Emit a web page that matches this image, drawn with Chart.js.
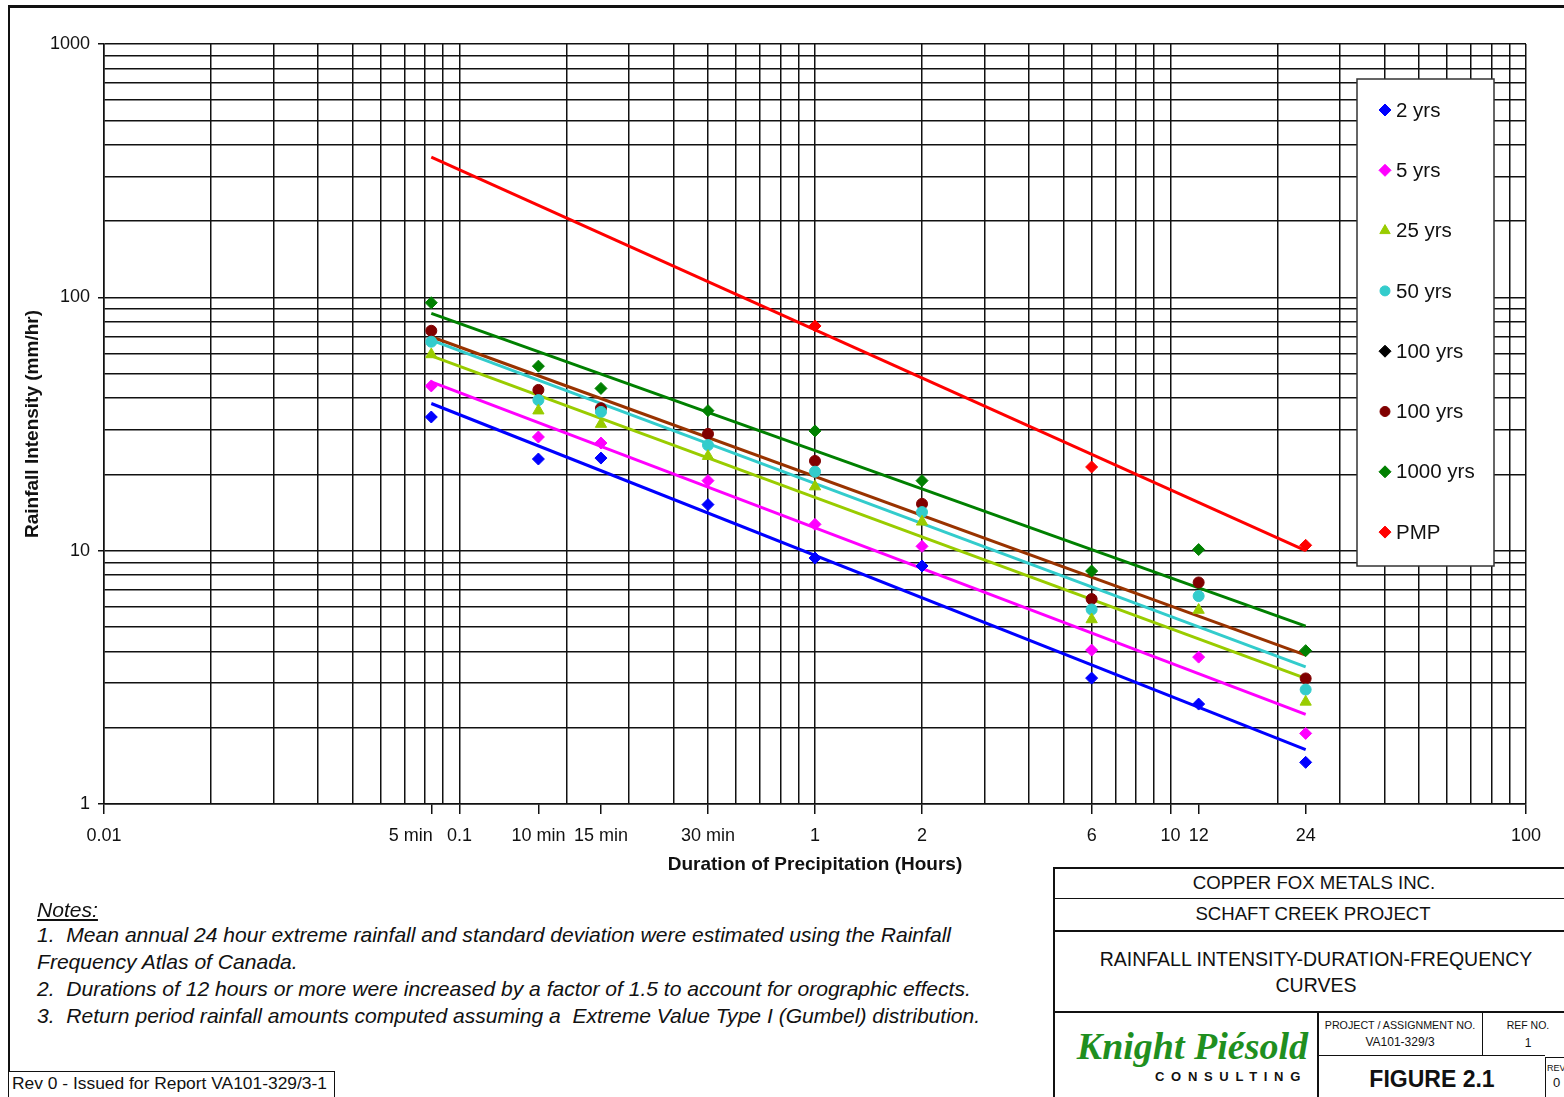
<!DOCTYPE html>
<html>
<head>
<meta charset="utf-8">
<script src="https://cdn.jsdelivr.net/npm/chart.js@4/dist/chart.umd.min.js"></script>
<style>
  html,body{margin:0;padding:0;background:#fff;}
  body{width:1564px;height:1097px;position:relative;overflow:hidden;font-family:"Liberation Sans",Arial,sans-serif;color:#111;}
  .abs{position:absolute;}
  .line{position:absolute;background:#111;}
  #chart{position:absolute;left:0;top:0;}
  .fit{white-space:nowrap;display:inline-block;transform-origin:0 50%;}
  .c{position:absolute;text-align:center;white-space:nowrap;transform:translate(-50%,-50%);}
</style>
</head>
<body>
<!-- outer frame -->
<div class="line" style="left:8px;top:5px;width:1556px;height:3px;"></div>
<div class="line" style="left:8px;top:5px;width:2px;height:1067px;"></div>

<canvas id="chart" width="1564" height="900"></canvas>

<!-- notes -->
<div class="abs" style="left:37px;top:898px;font-style:italic;font-size:21px;"><span class="fit note" style="text-decoration:underline;">Notes:</span></div>
<div class="abs" style="left:37px;top:923px;font-style:italic;font-size:21px;"><span class="fit note" id="note1">1.&nbsp; Mean annual 24 hour extreme rainfall and standard deviation were estimated using the Rainfall</span></div>
<div class="abs" style="left:37px;top:950px;font-style:italic;font-size:21px;"><span class="fit note">Frequency Atlas of Canada.</span></div>
<div class="abs" style="left:37px;top:977px;font-style:italic;font-size:21px;"><span class="fit note">2.&nbsp; Durations of 12 hours or more were increased by a factor of 1.5 to account for orographic effects.</span></div>
<div class="abs" style="left:37px;top:1004px;font-style:italic;font-size:21px;"><span class="fit note">3.&nbsp; Return period rainfall amounts computed assuming a&nbsp; Extreme Value Type I (Gumbel) distribution.</span></div>

<!-- rev box -->
<div class="abs" style="left:8px;top:1071px;width:325px;height:40px;border:1px solid #111;background:#fff;"></div>
<div class="abs" style="left:12px;top:1075px;font-size:16px;"><span class="fit" id="revtxt">Rev 0 - Issued for Report VA101-329/3-1</span></div>

<!-- title block -->
<div class="abs" style="left:1053px;top:868px;width:520px;height:240px;background:#fff;"></div>
<div class="line" style="left:1053px;top:867px;width:511px;height:2px;"></div>
<div class="line" style="left:1053px;top:867px;width:2px;height:230px;"></div>
<div class="line" style="left:1053px;top:898px;width:511px;height:1px;"></div>
<div class="line" style="left:1053px;top:930px;width:511px;height:2px;"></div>
<div class="line" style="left:1053px;top:1011px;width:511px;height:2px;"></div>
<div class="line" style="left:1317px;top:1011px;width:2px;height:86px;"></div>
<div class="line" style="left:1482px;top:1011px;width:1px;height:45px;"></div>
<div class="line" style="left:1317px;top:1055px;width:228px;height:1px;"></div>
<div class="line" style="left:1545px;top:1057px;width:1px;height:40px;"></div>
<div class="line" style="left:1545px;top:1057px;width:19px;height:1px;"></div>

<div class="c" style="left:1314px;top:883px;font-size:18.6px;">COPPER FOX METALS INC.</div>
<div class="c" style="left:1313px;top:914px;font-size:18.6px;">SCHAFT CREEK PROJECT</div>
<div class="c" style="left:1316px;top:959px;font-size:19.5px;">RAINFALL INTENSITY-DURATION-FREQUENCY</div>
<div class="c" style="left:1316px;top:985px;font-size:19.5px;">CURVES</div>
<div class="abs" style="right:256px;top:1024px;font-family:'Liberation Serif','Times New Roman',serif;font-style:italic;font-weight:bold;font-size:38px;color:#1f8f1f;white-space:nowrap;">Knight Piésold</div>
<div class="abs" style="right:257px;top:1069px;font-weight:bold;font-size:13px;letter-spacing:6.7px;white-space:nowrap;">CONSULTING</div>
<div class="c" style="left:1400px;top:1025px;font-size:10.7px;">PROJECT / ASSIGNMENT NO.</div>
<div class="c" style="left:1400px;top:1042px;font-size:12px;">VA101-329/3</div>
<div class="c" style="left:1528px;top:1025px;font-size:10.5px;">REF NO.</div>
<div class="c" style="left:1528px;top:1043px;font-size:12px;">1</div>
<div class="c" style="left:1432px;top:1079px;font-size:23px;font-weight:bold;">FIGURE 2.1</div>
<div class="abs" style="left:1547px;top:1063px;font-size:9px;">REV</div>
<div class="abs" style="left:1553px;top:1075px;font-size:13px;">0</div>

<script>
// ---------------- data ----------------
const durations = [0.0833, 0.1667, 0.25, 0.5, 1, 2, 6, 12, 24]; // hours (5, 10, 15, 30 min, 1..24 h)
const yrs2    = [33.7, 23.0, 23.2, 15.2, 9.35, 8.7, 3.14, 2.48, 1.46];
const yrs5    = [44.7, 28.1, 26.6, 18.9, 12.7, 10.4, 4.05, 3.80, 1.90];
const yrs25   = [59.5, 35.7, 31.6, 23.6, 17.9, 13.0, 5.35, 5.83, 2.53];
const yrs50   = [66.8, 39.3, 35.3, 26.1, 20.5, 14.2, 5.86, 6.62, 2.83];
const yrs100a = [null, null, null, null, null, null, null, null, null];
const yrs100b = [73.8, 43.1, 36.5, 28.9, 22.6, 15.3, 6.44, 7.49, 3.13];
const yrs1000 = [95.2, 53.5, 43.7, 35.7, 29.7, 18.9, 8.31, 10.1, 4.03];
const pmp     = [null, null, null, null, 77.1, null, 21.4, null, 10.5];

// fitted trend lines: value at 5 min and at 24 h
const fitDurations = [0.0833, 24];
const fit2    = [38.1, 1.64];
const fit5    = [46.4, 2.26];
const fit25   = [58.7, 3.13];
const fit50   = [67.8, 3.48];
const fit100  = [69.9, 3.87];
const fit1000 = [86.5, 5.04];
const fitPMP  = [358, 10.0];

// axis tick labels
const xLabelValues = [0.01, 0.0833, 0.1, 0.1667, 0.25, 0.5, 1, 2, 6, 10, 12, 24, 100];
const xLabelTexts  = ['0.01', '5 min\u2003\u2003 ', '0.1', '10 min', '15 min', '30 min', '1', '2', '6', '10', '12', '24', '100'];
const yLabelValues = [1, 10, 100, 1000];
const yLabelTexts  = ['1', '10', '100', '1000'];

const seriesNames = ['2 yrs', '5 yrs', '25 yrs', '50 yrs', '100 yrs', '100 yrs', '1000 yrs', 'PMP'];

// ---------------- helpers ----------------
function logGrid(minExp, maxExp) {
  const out = [];
  for (let e = minExp; e < maxExp; e++) {
    for (let k = 1; k <= 9; k++) out.push(Number((k * Math.pow(10, e)).toPrecision(6)));
  }
  out.push(Math.pow(10, maxExp));
  return out;
}
const xGrid = logGrid(-2, 2);
const yGrid = logGrid(0, 3);
const near = (a, b) => Math.abs(Math.log10(a) - Math.log10(b)) < 1e-4;
const xAll = [...new Set([...xGrid, ...xLabelValues])].sort((a, b) => a - b);
const xLabel = v => { const i = xLabelValues.findIndex(t => near(t, v)); return i < 0 ? null : xLabelTexts[i]; };
const yLabel = v => { const i = yLabelValues.findIndex(t => near(t, v)); return i < 0 ? null : yLabelTexts[i]; };
const isXGrid = v => xGrid.some(t => near(t, v));

const pts = arr => durations.map((d, i) => ({x: d, y: arr[i]})).filter(p => p.y !== null);
const fitPts = arr => fitDurations.map((d, i) => ({x: d, y: arr[i]}));

const GRID = '#111';
const FONT = '"Liberation Sans", Arial, sans-serif';

function pointDs(label, data, color, style, r) {
  return {type: 'scatter', label, data: pts(data), showLine: false, pointStyle: style,
    pointRadius: r, pointHoverRadius: r, backgroundColor: color, borderColor: color, borderWidth: 1,
    order: 0, inLegend: true};
}
function lineDs(data, color) {
  return {type: 'line', label: '', data: fitPts(data), borderColor: color, borderWidth: 3,
    pointRadius: 0, fill: false, tension: 0, order: 1, inLegend: false};
}

const datasets = [
  pointDs(seriesNames[0], yrs2, '#0000ff', 'rectRot', 6),
  pointDs(seriesNames[1], yrs5, '#ff00ff', 'rectRot', 6),
  pointDs(seriesNames[2], yrs25, '#99cc00', 'triangle', 6.5),
  pointDs(seriesNames[3], yrs50, '#33cccc', 'circle', 5.5),
  pointDs(seriesNames[4], yrs100a, '#000000', 'rectRot', 6),
  pointDs(seriesNames[5], yrs100b, '#800000', 'circle', 5.5),
  pointDs(seriesNames[6], yrs1000, '#008000', 'rectRot', 6),
  pointDs(seriesNames[7], pmp, '#ff0000', 'rectRot', 6),
  lineDs(fit2, '#0000ff'),
  lineDs(fit5, '#ff00ff'),
  lineDs(fit25, '#99cc00'),
  lineDs(fit50, '#33cccc'),
  lineDs(fit100, '#993300'),
  lineDs(fit1000, '#008000'),
  lineDs(fitPMP, '#ff0000'),
];

const boxLegend = {
  id: 'boxLegend',
  afterDraw(chart) {
    const ctx = chart.ctx;
    const x0 = 1357, y0 = 79, w = 137, h = 487;
    ctx.save();
    ctx.fillStyle = '#fff';
    ctx.fillRect(x0, y0, w, h);
    ctx.strokeStyle = '#333';
    ctx.lineWidth = 1.5;
    ctx.strokeRect(x0, y0, w, h);
    const items = chart.data.datasets.filter(d => d.inLegend);
    items.forEach((d, i) => {
      const cy = 110 + i * 60.3;
      ctx.fillStyle = d.backgroundColor;
      ctx.strokeStyle = d.borderColor;
      ctx.lineWidth = 1;
      Chart.helpers.drawPoint(ctx, {pointStyle: d.pointStyle, radius: d.pointStyle === 'circle' ? 5 : 6, borderWidth: 1, rotation: 0}, 1385, cy);
      ctx.fillStyle = '#111';
      ctx.font = '20.5px ' + FONT;
      ctx.textBaseline = 'middle';
      ctx.textAlign = 'left';
      ctx.fillText(d.label, 1396, cy + 1);
    });
    ctx.restore();
  }
};

new Chart(document.getElementById('chart'), {
  data: {datasets},
  options: {
    responsive: false,
    animation: false,
    layout: {padding: {left: 0, top: 44, right: 38, bottom: 0}},
    plugins: {legend: {display: false}, tooltip: {enabled: false}, title: {display: false}},
    scales: {
      x: {
        type: 'logarithmic', position: 'bottom', min: 0.01, max: 100,
        afterBuildTicks(scale) { scale.ticks = xAll.map(v => ({value: v})); },
        afterFit(scale) { scale.height = 96; },
        grid: {
          color: c => (c.tick && isXGrid(c.tick.value)) ? GRID : 'rgba(0,0,0,0)',
          tickColor: c => (c.tick && xLabel(c.tick.value) !== null) ? GRID : 'rgba(0,0,0,0)',
          lineWidth: 1.5, tickLength: 10, drawTicks: true
        },
        border: {color: GRID, width: 1.5},
        ticks: {
          autoSkip: false, maxRotation: 0, minRotation: 0, padding: 11, color: '#111',
          font: {size: 18, family: FONT},
          callback: v => xLabel(v) ?? ''
        },
        title: {display: true, text: 'Duration of Precipitation (Hours)', color: '#111',
          font: {size: 19, weight: 'bold', family: FONT}, padding: {top: 0, bottom: 24}}
      },
      y: {
        type: 'logarithmic', position: 'left', min: 1, max: 1000,
        afterBuildTicks(scale) { scale.ticks = yGrid.map(v => ({value: v})); },
        afterFit(scale) { scale.width = 104; },
        grid: {
          color: GRID,
          tickColor: c => (c.tick && yLabel(c.tick.value) !== null) ? GRID : 'rgba(0,0,0,0)',
          lineWidth: 1.5, tickLength: 6, drawTicks: true
        },
        border: {color: GRID, width: 1.5},
        ticks: {
          autoSkip: false, padding: 8, color: '#111',
          font: {size: 18, family: FONT},
          callback: v => yLabel(v) ?? ''
        },
        title: {display: true, text: 'Rainfall Intensity (mm/hr)', color: '#111',
          font: {size: 19, weight: 'bold', family: FONT}, padding: {top: 21, bottom: 0}}
      }
    }
  },
  plugins: [boxLegend]
});

// condense note text to match narrow typeface width
(function () {
  const n1 = document.getElementById('note1');
  const s = 914 / n1.getBoundingClientRect().width;
  document.querySelectorAll('.note').forEach(el => el.style.transform = 'scaleX(' + s + ')');
  const r = document.getElementById('revtxt');
  r.style.transform = 'scaleX(' + (315 / r.getBoundingClientRect().width) + ')';
})();
</script>
</body>
</html>
